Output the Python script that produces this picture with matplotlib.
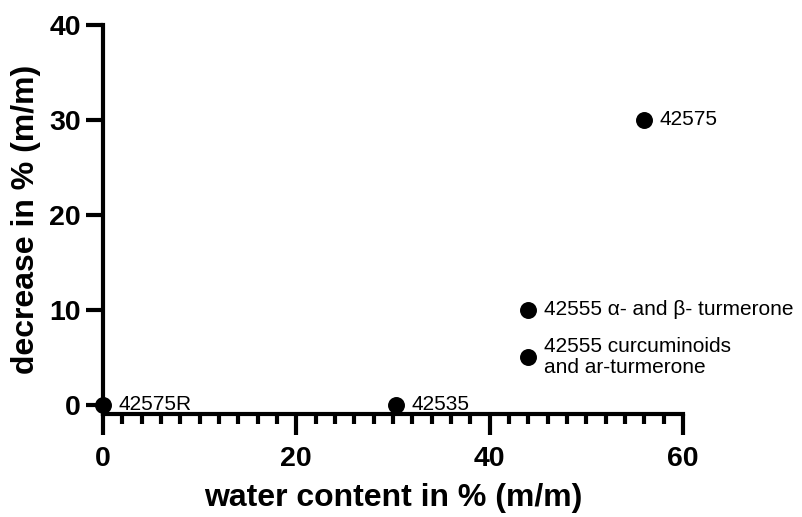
import matplotlib.pyplot as plt
from matplotlib.ticker import MultipleLocator

# values
water = [0, 30.3, 44, 44, 56]
decrease = [0, 0, 10, 5, 30]
names = ["42575R", "42535", "42555 α- and β- turmerone",
         "42555 curcuminoids\nand ar-turmerone", "42575"]

plt.rcParams["font.family"] = ["Liberation Sans", "DejaVu Sans"]

fig = plt.figure(figsize=(8.02, 5.17), dpi=100)
ax = fig.add_axes([0.1284, 0.199, 0.7232, 0.7525])

ax.scatter(water, decrease, s=125, color="black", zorder=3, clip_on=False)
for x, y, name in zip(water, decrease, names):
    ax.annotate(name, (x, y), xytext=(11, 0), textcoords="offset points",
                va="center", ha="left", fontsize=15, linespacing=1.1)

ax.set_xlim(0, 60)
ax.set_ylim(-1, 40)
ax.set_xticks([0, 20, 40, 60])
ax.set_yticks([0, 10, 20, 30, 40])
ax.xaxis.set_minor_locator(MultipleLocator(2))

for side in ["top", "right"]:
    ax.spines[side].set_visible(False)
ax.spines["left"].set_linewidth(3)
ax.spines["bottom"].set_linewidth(3)
ax.spines["left"].set_bounds(-1, 40)
ax.spines["bottom"].set_bounds(0, 60)

ax.tick_params(which="major", width=3, length=12, labelsize=20.5, pad=4)
ax.tick_params(axis="x", which="major", length=15, pad=8)
ax.tick_params(which="minor", width=3, length=7)
for lab in ax.get_xticklabels() + ax.get_yticklabels():
    lab.set_fontweight("bold")

ax.set_xlabel("water content in % (m/m)", fontsize=23, fontweight="bold", labelpad=8)
ax.set_ylabel("decrease in % (m/m)", fontsize=23, fontweight="bold", labelpad=6)

fig.savefig("out.png", dpi=100)
